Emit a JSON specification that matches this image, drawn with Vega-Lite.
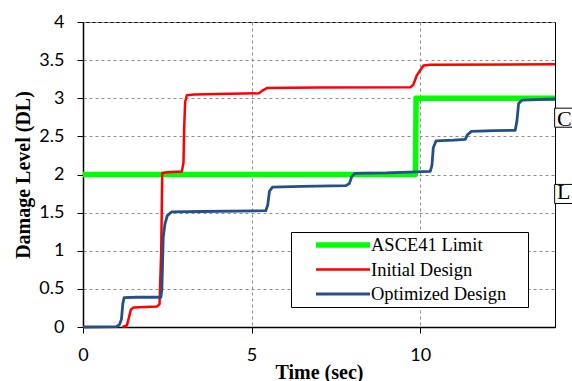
{
  "$schema": "https://vega.github.io/schema/vega-lite/v6.json",
  "width": 472,
  "height": 305,
  "autosize": "none",
  "padding": {"left": 83, "top": 22, "right": 17, "bottom": 54},
  "background": "white",
  "config": {
    "view": {"stroke": "#000000", "strokeWidth": 1},
    "axis": {
      "labelFont": "Lato",
      "labelFontSize": 18,
      "labelColor": "#000000",
      "labelFlush": false,
      "labelOverlap": false,
      "domainColor": "#000000",
      "domainWidth": 1.5,
      "tickColor": "#000000",
      "tickSize": 6,
      "tickWidth": 1,
      "labelPadding": 13,
      "gridColor": "#8c8c8c",
      "gridDash": [3, 3],
      "gridWidth": 1,
      "titleFont": "Liberation Serif",
      "titleFontWeight": "bold",
      "titleFontSize": 20,
      "titleColor": "#000000"
    },
    "legend": {
      "labelFont": "Liberation Serif",
      "labelFontSize": 18.5,
      "labelColor": "#000000"
    }
  },
  "datasets": {
    "curves": [
      {"series": "ASCE41 Limit", "t": 0, "dl": 2},
      {"series": "ASCE41 Limit", "t": 9.86, "dl": 2},
      {"series": "ASCE41 Limit", "t": 9.88, "dl": 3},
      {"series": "ASCE41 Limit", "t": 14, "dl": 3},

      {"series": "Initial Design", "t": 1.17, "dl": 0},
      {"series": "Initial Design", "t": 1.3, "dl": 0.02},
      {"series": "Initial Design", "t": 1.36, "dl": 0.12},
      {"series": "Initial Design", "t": 1.42, "dl": 0.23},
      {"series": "Initial Design", "t": 1.5, "dl": 0.255},
      {"series": "Initial Design", "t": 2.2, "dl": 0.27},
      {"series": "Initial Design", "t": 2.27, "dl": 0.3},
      {"series": "Initial Design", "t": 2.32, "dl": 1.0},
      {"series": "Initial Design", "t": 2.35, "dl": 2.02},
      {"series": "Initial Design", "t": 2.5, "dl": 2.03},
      {"series": "Initial Design", "t": 2.93, "dl": 2.04},
      {"series": "Initial Design", "t": 2.98, "dl": 2.15},
      {"series": "Initial Design", "t": 3.0, "dl": 2.6},
      {"series": "Initial Design", "t": 3.03, "dl": 2.95},
      {"series": "Initial Design", "t": 3.08, "dl": 3.04},
      {"series": "Initial Design", "t": 3.3, "dl": 3.05},
      {"series": "Initial Design", "t": 5.22, "dl": 3.065},
      {"series": "Initial Design", "t": 5.32, "dl": 3.1},
      {"series": "Initial Design", "t": 5.47, "dl": 3.135},
      {"series": "Initial Design", "t": 7.0, "dl": 3.14},
      {"series": "Initial Design", "t": 9.72, "dl": 3.145},
      {"series": "Initial Design", "t": 9.8, "dl": 3.18},
      {"series": "Initial Design", "t": 9.9, "dl": 3.3},
      {"series": "Initial Design", "t": 10.1, "dl": 3.43},
      {"series": "Initial Design", "t": 10.3, "dl": 3.44},
      {"series": "Initial Design", "t": 14, "dl": 3.445},

      {"series": "Optimized Design", "t": 0, "dl": 0},
      {"series": "Optimized Design", "t": 1.0, "dl": 0.005},
      {"series": "Optimized Design", "t": 1.08, "dl": 0.03},
      {"series": "Optimized Design", "t": 1.14, "dl": 0.1},
      {"series": "Optimized Design", "t": 1.18, "dl": 0.3},
      {"series": "Optimized Design", "t": 1.22, "dl": 0.385},
      {"series": "Optimized Design", "t": 1.6, "dl": 0.39},
      {"series": "Optimized Design", "t": 2.31, "dl": 0.39},
      {"series": "Optimized Design", "t": 2.34, "dl": 0.5},
      {"series": "Optimized Design", "t": 2.38, "dl": 1.18},
      {"series": "Optimized Design", "t": 2.43, "dl": 1.35},
      {"series": "Optimized Design", "t": 2.5, "dl": 1.46},
      {"series": "Optimized Design", "t": 2.63, "dl": 1.51},
      {"series": "Optimized Design", "t": 3.5, "dl": 1.515},
      {"series": "Optimized Design", "t": 5.42, "dl": 1.525},
      {"series": "Optimized Design", "t": 5.48, "dl": 1.6},
      {"series": "Optimized Design", "t": 5.53, "dl": 1.78},
      {"series": "Optimized Design", "t": 5.62, "dl": 1.835},
      {"series": "Optimized Design", "t": 6.5, "dl": 1.845},
      {"series": "Optimized Design", "t": 7.8, "dl": 1.855},
      {"series": "Optimized Design", "t": 7.9, "dl": 1.88},
      {"series": "Optimized Design", "t": 7.97, "dl": 1.97},
      {"series": "Optimized Design", "t": 8.07, "dl": 2.015},
      {"series": "Optimized Design", "t": 9.0, "dl": 2.02},
      {"series": "Optimized Design", "t": 10.3, "dl": 2.04},
      {"series": "Optimized Design", "t": 10.35, "dl": 2.12},
      {"series": "Optimized Design", "t": 10.39, "dl": 2.35},
      {"series": "Optimized Design", "t": 10.47, "dl": 2.44},
      {"series": "Optimized Design", "t": 11.0, "dl": 2.45},
      {"series": "Optimized Design", "t": 11.34, "dl": 2.46},
      {"series": "Optimized Design", "t": 11.4, "dl": 2.52},
      {"series": "Optimized Design", "t": 11.52, "dl": 2.565},
      {"series": "Optimized Design", "t": 12.2, "dl": 2.575},
      {"series": "Optimized Design", "t": 12.82, "dl": 2.58},
      {"series": "Optimized Design", "t": 12.87, "dl": 2.7},
      {"series": "Optimized Design", "t": 12.92, "dl": 2.93},
      {"series": "Optimized Design", "t": 13.02, "dl": 2.975},
      {"series": "Optimized Design", "t": 14, "dl": 2.99}
    ],
    "clipped": [
      {"x": 13.99, "x2": 15, "y": 2.87, "y2": 2.62, "tx": 14.06, "ty": 2.63, "label": "C"},
      {"x": 13.99, "x2": 15, "y": 1.87, "y2": 1.62, "tx": 14.06, "ty": 1.68, "label": "L"}
    ]
  },
  "layer": [
    {
      "data": {"name": "curves"},
      "mark": {"type": "line", "strokeCap": "butt", "strokeJoin": "round"},
      "encoding": {
        "x": {
          "field": "t",
          "type": "quantitative",
          "scale": {"domain": [0, 14], "nice": false, "zero": false},
          "axis": {"values": [0, 5, 10], "grid": true, "title": "Time (sec)", "titleY": 51, "titleBaseline": "alphabetic"}
        },
        "y": {
          "field": "dl",
          "type": "quantitative",
          "scale": {"domain": [0, 4], "nice": false},
          "axis": {"values": [0, 0.5, 1, 1.5, 2, 2.5, 3, 3.5, 4], "format": ".1~f", "grid": true, "title": "Damage Level (DL)", "titleX": -54, "titleBaseline": "alphabetic"}
        },
        "color": {
          "field": "series",
          "type": "nominal",
          "scale": {
            "domain": ["ASCE41 Limit", "Initial Design", "Optimized Design"],
            "range": ["#00FF00", "#FF0000", "#24508A"]
          },
          "legend": {
            "title": "\u00a0",
            "titleOrient": "right",
            "titlePadding": 21,
            "titleFontSize": 18,
            "orient": "none",
            "legendX": 208,
            "legendY": 210,
            "symbolType": "stroke",
            "symbolSize": 2916,
            "symbolOffset": 21,
            "labelOffset": -2,
            "clipHeight": 24,
            "rowPadding": 0.5,
            "padding": 1,
            "strokeColor": "#000000",
            "fillColor": "#ffffff",
            "labelFont": "Liberation Serif",
            "labelFontSize": 18.5
          }
        },
        "strokeWidth": {
          "field": "series",
          "type": "nominal",
          "scale": {
            "type": "ordinal",
            "domain": ["ASCE41 Limit", "Initial Design", "Optimized Design"],
            "range": [5.5, 2.5, 2.8]
          },
          "legend": {
            "title": "\u00a0",
            "titleOrient": "right",
            "titlePadding": 21,
            "titleFontSize": 18,
            "orient": "none",
            "legendX": 208,
            "legendY": 210,
            "symbolType": "stroke",
            "symbolSize": 2916,
            "symbolOffset": 21,
            "labelOffset": -2,
            "clipHeight": 24,
            "rowPadding": 0.5,
            "padding": 1,
            "strokeColor": "#000000",
            "fillColor": "#ffffff",
            "labelFont": "Liberation Serif",
            "labelFontSize": 18.5
          }
        }
      }
    },
    {
      "data": {"name": "clipped"},
      "mark": {"type": "rect", "fill": "#ffffff", "stroke": "#000000", "strokeWidth": 1, "clip": false},
      "encoding": {
        "x": {
          "field": "x",
          "type": "quantitative",
          "axis": {"values": [0, 5, 10], "grid": true, "title": "Time (sec)", "titleY": 51, "titleBaseline": "alphabetic"}
        },
        "x2": {"field": "x2"},
        "y": {
          "field": "y",
          "type": "quantitative",
          "axis": {"values": [0, 0.5, 1, 1.5, 2, 2.5, 3, 3.5, 4], "format": ".1~f", "grid": true, "title": "Damage Level (DL)", "titleX": -54, "titleBaseline": "alphabetic"}
        },
        "y2": {"field": "y2"}
      }
    },
    {
      "data": {"name": "clipped"},
      "mark": {"type": "text", "font": "Liberation Serif", "fontSize": 22, "align": "left", "baseline": "alphabetic", "color": "#000000", "clip": false},
      "encoding": {
        "x": {
          "field": "tx",
          "type": "quantitative",
          "axis": {"values": [0, 5, 10], "grid": true, "title": "Time (sec)", "titleY": 51, "titleBaseline": "alphabetic"}
        },
        "y": {
          "field": "ty",
          "type": "quantitative",
          "axis": {"values": [0, 0.5, 1, 1.5, 2, 2.5, 3, 3.5, 4], "format": ".1~f", "grid": true, "title": "Damage Level (DL)", "titleX": -54, "titleBaseline": "alphabetic"}
        },
        "text": {"field": "label"}
      }
    }
  ]
}
